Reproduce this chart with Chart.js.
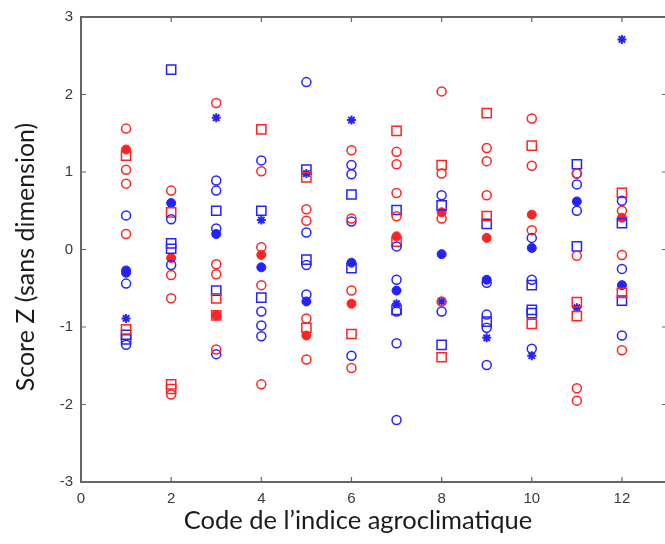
<!DOCTYPE html>
<html><head><meta charset="utf-8">
<script src="https://cdn.jsdelivr.net/npm/chart.js@4/dist/chart.umd.min.js"></script>
<style>html,body{margin:0;padding:0;overflow:hidden;background:#fff}#wrap{width:675px;height:544px}</style>
</head><body><div id="wrap"><canvas id="c" width="675" height="544"></canvas></div>
<script>
const xTicks = [0, 2, 4, 6, 8, 10, 12];
const yTicks = [-3, -2, -1, 0, 1, 2, 3];
const xTitle = 'Code de l’indice agroclimatique';
const yTitle = 'Score Z (sans dimension)';
// [code, score]
const redCircle = [[1,1.56],[1,1.03],[1,0.85],[1,0.20],[2,0.76],[2,-0.33],[2,-0.63],[2,-1.87],[3,1.89],[3,-0.19],[3,-0.32],[3,-1.29],[4,1.01],[4,0.03],[4,-0.46],[4,-1.74],[5,0.52],[5,0.37],[5,-0.89],[5,-1.42],[6,1.28],[6,0.40],[6,-0.53],[6,-1.53],[7,1.26],[7,1.10],[7,0.73],[7,0.43],[8,2.04],[8,0.98],[8,0.40],[8,-0.67],[9,1.31],[9,1.14],[9,0.70],[10,1.69],[10,1.08],[10,0.25],[11,0.98],[11,-0.08],[11,-1.79],[11,-1.95],[12,0.50],[12,-0.07],[12,-1.30]];
const redSquare = [[1,1.21],[1,-1.03],[2,0.48],[2,-1.74],[2,-1.80],[3,-0.63],[3,-0.85],[4,1.55],[5,0.93],[5,-1.01],[6,-1.09],[7,1.53],[7,0.10],[8,1.09],[8,-1.39],[9,1.76],[9,0.43],[10,1.34],[10,-0.96],[11,-0.68],[11,-0.86],[12,0.73],[12,-0.56]];
const redFilled = [[1,1.29],[2,-0.11],[3,-0.85],[4,-0.07],[5,-1.11],[6,-0.70],[7,0.17],[8,0.48],[9,0.15],[10,0.45],[12,0.41]];
const blueCircle = [[1,0.44],[1,-0.44],[1,-1.23],[2,0.39],[2,-0.20],[3,0.89],[3,0.76],[3,0.27],[3,-1.35],[4,1.15],[4,-0.80],[4,-0.98],[4,-1.12],[5,2.16],[5,0.22],[5,-0.58],[5,-0.20],[6,1.09],[6,0.97],[6,0.36],[6,-1.37],[7,0.04],[7,-0.39],[7,-0.80],[7,-1.21],[7,-2.20],[8,0.70],[8,-0.80],[9,-0.43],[9,-0.84],[9,-1.01],[9,-1.49],[10,0.15],[10,-0.39],[10,-1.28],[11,0.98],[11,0.84],[11,0.50],[12,0.63],[12,-0.25],[12,-1.11]];
const blueSquare = [[1,-1.16],[1,-1.10],[2,2.32],[2,0.08],[2,0.01],[3,0.50],[3,-0.53],[4,0.50],[4,-0.62],[5,1.03],[5,-0.13],[6,0.71],[6,-0.24],[7,0.51],[7,-0.78],[8,0.57],[8,-1.23],[9,0.33],[9,-0.93],[10,-0.46],[10,-0.78],[10,-0.82],[11,1.10],[11,0.04],[12,0.34],[12,-0.66]];
const blueFilled = [[1,-0.27],[1,-0.30],[2,0.60],[3,0.20],[4,-0.23],[5,-0.67],[6,-0.17],[7,-0.53],[8,-0.06],[9,-0.39],[10,0.02],[11,0.62],[12,-0.46]];
const blueStar = [[1,-0.89],[3,1.70],[4,0.38],[5,0.98],[6,1.67],[7,-0.70],[8,-0.67],[9,-1.14],[10,-1.37],[11,-0.75],[12,2.71]];

const RED = 'rgb(255,35,35)', BLUE = 'rgb(35,35,255)';
const toPts = a => a.map(p => ({x: p[0], y: p[1]}));
function ds(data, color, style, filled, r, bw) {
  return {data: toPts(data), pointStyle: style, pointRadius: r, pointHoverRadius: r,
    borderColor: color, backgroundColor: filled ? color : 'rgba(0,0,0,0)', pointBorderWidth: bw, borderWidth: bw, showLine: false};
}
const boxPlugin = {
  id: 'box',
  afterDraw(chart) {
    const {ctx, chartArea: a, scales: {x, y}} = chart;
    ctx.save();
    ctx.strokeStyle = '#666'; ctx.lineWidth = 2;
    ctx.strokeRect(a.left, a.top, a.right - a.left, a.bottom - a.top);
    ctx.lineWidth = 1.2;
    ctx.beginPath();
    xTicks.forEach(v => { const px = x.getPixelForValue(v); ctx.moveTo(px, a.bottom); ctx.lineTo(px, a.bottom - 5); ctx.moveTo(px, a.top); ctx.lineTo(px, a.top + 5); });
    yTicks.forEach(v => { const py = y.getPixelForValue(v); ctx.moveTo(a.left, py); ctx.lineTo(a.left + 5, py); ctx.moveTo(a.right, py); ctx.lineTo(a.right - 5, py); });
    ctx.stroke();
    // axis titles
    ctx.fillStyle = '#1a1a1a';
    ctx.textAlign = 'center'; ctx.textBaseline = 'middle';
    ctx.font = "25.5px Lato, 'Open Sans', sans-serif";
    ctx.fillText(xTitle, 358, 521);
    ctx.translate(26, 257);
    ctx.rotate(-Math.PI / 2);
    ctx.font = "25px Lato, 'Open Sans', sans-serif";
    ctx.fillText(yTitle, 0, 0);
    ctx.restore();
  }
};
const tickFont = {family: "'Liberation Sans Narrow','Liberation Sans',sans-serif", size: 15};
new Chart(document.getElementById('c'), {
  type: 'scatter',
  data: {datasets: [
    ds(redCircle, RED, 'circle', false, 4.5, 1.5),
    ds(blueCircle, BLUE, 'circle', false, 4.5, 1.5),
    ds(redSquare, RED, 'rect', false, 6.5, 1.5),
    ds(blueSquare, BLUE, 'rect', false, 6.5, 1.5),
    ds(redFilled, RED, 'circle', true, 4.5, 1),
    ds(blueFilled, BLUE, 'circle', true, 4.5, 1),
    ds(blueStar, BLUE, 'star', false, 4.5, 2)
  ]},
  options: {
    responsive: false, animation: false, devicePixelRatio: 1,
    layout: {padding: {top: 15, right: 6, left: 0, bottom: 0}},
    plugins: {legend: {display: false}, tooltip: {enabled: false}},
    scales: {
      x: {type: 'linear', min: 0, max: 13,
        afterFit(s) { s.height = 62; },
        afterBuildTicks(s) { s.ticks = xTicks.map(v => ({value: v})); },
        grid: {display: false, drawTicks: false}, border: {display: false},
        ticks: {padding: 8, color: '#3a3a3a', font: tickFont, maxRotation: 0},
        title: {display: false}},
      y: {type: 'linear', min: -3, max: 3,
        afterFit(s) { s.width = 81; },
        afterBuildTicks(s) { s.ticks = yTicks.map(v => ({value: v})); },
        grid: {display: false, drawTicks: false}, border: {display: false},
        ticks: {padding: 8, color: '#3a3a3a', font: tickFont},
        title: {display: false}}
    }
  },
  plugins: [boxPlugin]
});
</script></body></html>
